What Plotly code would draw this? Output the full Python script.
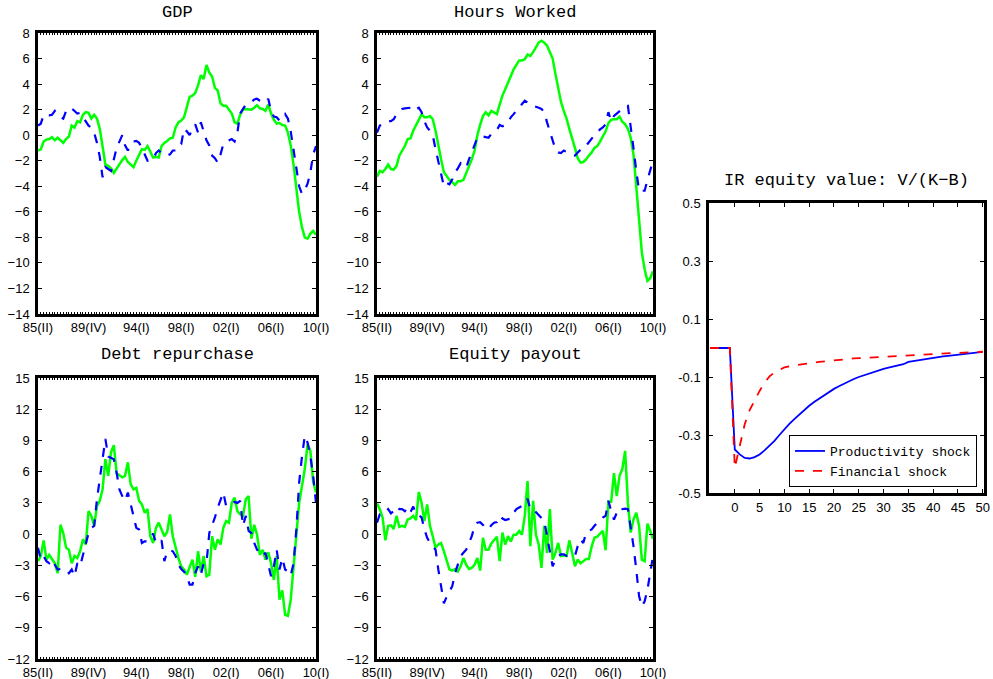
import plotly.graph_objects as go

# ---------------- data ----------------
quarters = list(range(100))  # 1985Q2 .. 2010Q1
tick_pos = [0, 18, 35, 51, 67, 83, 99]
tick_text = ["85(II)", "89(IV)", "94(I)", "98(I)", "02(I)", "06(I)", "10(I)"]

gdp_data = [-1.2, -1.1, -0.5, -0.35, -0.3, -0.15, -0.4, -0.2, -0.4, -0.6,
            -0.3, -0.1, 0.75, 0.6, 1.1, 1.0, 1.6, 1.8, 1.75, 1.3,
            1.6, 1.3, 0.5, -1.0, -2.3, -2.4, -2.6, -2.95, -2.6, -2.2,
            -1.95, -1.7, -2.1, -2.3, -2.5, -2.0, -1.6, -1.1, -1.15, -0.85,
            -1.3, -1.75, -1.7, -1.75, -0.85, -0.6, -0.45, -0.25, -0.2, 0.6,
            1.0, 1.15, 1.4, 2.2, 3.0, 3.1, 3.3, 3.9, 4.7, 4.4,
            5.5, 4.9, 4.6, 3.7, 3.5, 2.5, 2.3, 2.3, 2.0, 1.7,
            1.0, 0.9, 1.6, 2.0, 2.05, 2.0, 2.0, 2.15, 2.35, 2.1,
            2.05, 1.9, 2.4, 1.7, 1.2, 0.9, 0.95, 0.8, 0.75, 0.2,
            -0.8, -2.3, -4.2, -6.0, -7.2, -8.0, -8.1, -7.7, -7.5, -7.8]
gdp_model = [0.75, 0.9, 1.6, 1.55, 1.55, 1.6, 1.9, 1.55, 1.45, 1.3,
             1.9, 1.85, 2.1, 1.9, 1.7, 1.75, 1.4, 1.1, 0.75, 0.6,
             0.2, -0.6, -1.7, -3.3, -2.5, -2.65, -2.8, -1.9, -1.0, -0.5,
             0.0, -0.8, -1.2, -0.7, -0.5, -0.45, -0.6, -1.0, -1.5, -2.0,
             -1.95, -1.9, -1.4, -1.2, -1.4, -1.55, -1.6, -1.5, -1.2, -1.2,
             -0.8, -0.7, 0.5, 0.3, 0.0, 0.5, 0.85, 0.2, 1.0, 0.2,
             -0.4, -0.8, -1.6, -1.8, -2.15, -1.5, -0.7, -0.5, -0.4, -0.3,
             -0.5, 0.2, 1.7, 2.1, 2.4, 2.5, 2.6, 2.8, 2.85, 2.7,
             2.65, 2.55, 2.85, 1.9, 1.45, 1.4, 1.15, 1.3, 1.65, 1.3,
             0.3, -1.2, -2.6, -4.0, -4.6, -4.3, -3.8, -2.9, -1.5, -0.85]

hours_data = [-3.25, -2.8, -2.9, -2.65, -2.3, -2.65, -2.7, -2.4, -1.6, -1.2,
              -0.85, -0.3, -0.25, 0.35, 0.75, 1.25, 1.65, 1.4, 1.4, 1.5,
              1.25, 0.35, -0.85, -1.9, -2.9, -3.2, -3.5, -3.7, -3.9, -3.6,
              -3.6, -3.5, -3.0, -2.5, -1.9, -1.2, 0.0, 0.8, 1.5, 1.8,
              1.55, 1.9, 1.8, 1.65, 2.4, 3.1, 3.6, 4.1, 4.7, 5.15,
              5.5, 5.85, 5.85, 5.95, 6.3, 6.2, 6.5, 6.9, 7.25, 7.4,
              7.25, 7.0, 6.55, 6.0, 4.8, 3.7, 2.6, 1.9, 1.3, 0.5,
              -0.2, -1.0, -1.8, -2.15, -2.1, -1.9, -1.6, -1.35, -1.0, -0.85,
              -0.5, -0.15, 0.3, 0.95, 1.2, 1.25, 1.25, 1.45, 1.05, 0.85,
              0.5, -0.2, -1.5, -4.0, -6.8, -9.2, -10.5, -11.4, -11.2, -10.65]
hours_model = [0.2, 0.75, 0.85, 1.0, 1.1, 1.1, 1.25, 1.65, 1.85, 2.05,
               2.1, 2.1, 2.15, 2.3, 2.05, 2.15, 1.8, 1.1, 0.6, 0.35,
               0.0, -1.1, -2.15, -3.2, -4.0, -3.75, -3.85, -3.45, -2.9, -2.6,
               -2.2, -2.4, -2.55, -1.9, -1.3, -0.8, -0.2, -0.15, -0.1, -0.15,
               -0.2, 0.1, 0.2, 0.4, 0.8, 0.7, 0.8, 1.0, 1.4, 1.65,
               1.9, 2.15, 2.4, 2.7, 2.55, 2.35, 2.3, 2.25, 2.15, 2.05,
               1.8, 1.0, 0.3, -0.3, -1.1, -1.35, -1.4, -1.2, -1.35, -1.45,
               -1.55, -1.6, -1.35, -1.15, -1.1, -0.8, -0.5, -0.3, 0.0, 0.2,
               0.45, 0.6, 0.85, 1.8, 1.1, 1.5, 1.7, 1.85, 2.1, 2.25,
               2.3, 0.8, -1.0, -2.8, -4.35, -4.35, -4.35, -3.5, -2.8, -2.0]

debt_data = [-2.6, -2.1, -0.6, -2.45, -2.0, -2.45, -2.8, -3.75, 0.9, 0.1,
             -1.3, -1.5, -2.8, -2.1, -2.3, -1.65, -0.5, -1.0, 2.2, 1.75,
             0.8, 2.7, 3.2, 4.3, 7.2, 5.6, 7.85, 8.55, 5.85, 5.65,
             5.45, 5.6, 6.9, 4.8, 4.3, 4.45, 3.2, 2.85, 2.05, 2.4,
             -0.2, -0.85, 0.6, 1.1, 0.45, -0.2, 0.2, 1.9, -0.2, -1.3,
             -2.3, -3.1, -3.4, -3.9, -3.25, -2.45, -4.1, -1.65, -3.6, -2.1,
             -4.05, -3.9, -0.2, -1.5, -0.5, -1.0, 0.6, 1.25, 1.1, 3.0,
             3.5, 2.2, 1.9, 1.75, 3.35, 3.65, -0.45, 0.9, -0.05, -2.0,
             -1.5, -2.45, -1.75, -2.8, -4.4, -2.1, -6.3, -5.4, -7.75, -7.85,
             -6.3, -3.4, -0.2, 3.0, 4.6, 6.25, 8.65, 8.0, 5.0, 4.0]
debt_model = [-1.3, -2.45, -2.1, -2.6, -2.8, -2.45, -2.95, -3.4, -3.35, -3.35,
              -3.4, -3.75, -3.4, -4.05, -2.8, -3.1, -2.1, -0.85, 0.1, 0.6,
              0.8, 3.35, 5.3, 7.05, 9.15, 7.45, 7.3, 7.2, 5.9, 4.3,
              3.65, 3.2, 4.0, 2.7, 1.75, 0.6, 0.45, -0.85, -0.7, -0.7,
              -0.5, 0.05, -0.85, -0.85, -0.6, -2.6, -1.65, -1.55, -1.65, -2.1,
              -2.95, -3.35, -3.6, -4.05, -4.85, -4.85, -3.75, -3.1, -3.9, -2.8,
              -2.8, 0.1, 0.8, 1.6, 2.55, 3.35, 4.0, 2.7, 2.85, 2.95,
              3.1, 3.0, 3.2, 0.8, 1.75, 0.3, 0.1, -0.85, -1.5, -1.8,
              -2.1, -1.8, -2.8, -4.05, -3.1, -1.5, -3.4, -2.3, -3.4, -3.6,
              -4.0, -2.8, 0.45, 4.95, 7.45, 9.45, 8.8, 7.45, 5.6, 3.0]

equity_data = [2.95, 2.4, 1.6, -0.6, 0.8, 0.85, 0.5, 1.75, 0.7, 0.8,
               0.7, 1.4, 1.5, 1.75, 1.35, 4.05, 3.0, 1.25, 2.85, 0.8,
               -0.2, -1.3, -1.0, -0.85, -1.65, -2.45, -3.4, -3.5, -3.35, -3.6,
               -3.1, -2.3, -2.95, -3.35, -3.25, -2.95, -2.3, -3.5, -0.35, -1.5,
               -1.5, -0.9, -0.6, -0.25, -2.6, 0.15, -1.0, -0.2, -0.7, -0.05,
               -0.05, 0.3, -0.05, 1.75, 5.1, -1.15, 3.2, -0.05, -1.0, -3.25,
               0.8, -1.8, 2.4, -2.45, -1.8, -0.85, -2.1, -2.05, -2.1, -0.6,
               -1.8, -3.1, -2.45, -2.8, -2.6, -2.4, -2.4, -1.2, -0.35, -0.25,
               0.05, 0.3, -1.55, 3.1, 3.1, 5.85, 3.65, 5.6, 6.25, 8.0,
               3.0, 0.15, 1.4, 2.05, 0.8, -2.45, -2.6, 1.0, 0.3, -0.45]
equity_model = [1.1, 1.9, 1.9, 2.05, 2.4, 2.0, 2.2, 2.65, 2.4, 2.4,
                2.2, 2.55, 2.1, 2.65, 1.9, 1.8, 1.6, 0.45, -0.35, -0.85,
                -1.15, -1.5, -3.4, -5.2, -6.65, -6.0, -5.5, -5.0, -3.75, -2.8,
                -2.1, -1.8, -1.5, -0.85, -0.2, 0.8, 1.1, 1.15, 0.85, 0.6,
                0.45, 0.85, 1.1, 1.15, 1.75, 1.5, 1.35, 1.4, 1.5, 2.05,
                2.4, 2.55, 2.7, 2.85, 3.4, 2.4, 2.4, 2.1, 1.75, 1.5,
                1.25, -0.2, -1.65, -3.1, -2.45, -2.1, -1.95, -1.95, -2.1, -2.1,
                -2.1, -2.1, -1.15, -0.5, -0.85, 0.15, 0.3, 0.45, 0.8, 1.1,
                1.35, 1.6, 1.75, 3.2, 2.2, 1.4, 2.05, 1.9, 2.4, 2.45,
                2.4, 0.8, -1.15, -3.4, -5.95, -6.95, -6.45, -5.35, -3.75, -2.1]

ir_horizon = list(range(-5, 51))
ir_productivity = [0, 0, 0, 0, 0,
                   -0.350, -0.367, -0.379, -0.381, -0.376, -0.367, -0.353, -0.338, -0.320, -0.300,
                   -0.280, -0.262, -0.245, -0.229, -0.214, -0.199, -0.186, -0.174, -0.162, -0.151,
                   -0.141, -0.132, -0.123, -0.115, -0.107, -0.100, -0.094, -0.088, -0.082, -0.077,
                   -0.072, -0.068, -0.064, -0.060, -0.056, -0.048, -0.045, -0.042, -0.039, -0.036,
                   -0.033, -0.031, -0.029, -0.027, -0.025, -0.023, -0.021, -0.019, -0.017, -0.015,
                   -0.013]
ir_financial = [0, 0, 0, 0, 0,
                -0.413, -0.338, -0.263, -0.214, -0.179, -0.148, -0.119, -0.098, -0.084, -0.075,
                -0.067, -0.063, -0.060, -0.057, -0.054, -0.052, -0.050, -0.048, -0.046, -0.044,
                -0.042, -0.041, -0.039, -0.038, -0.036, -0.035, -0.034, -0.033, -0.032, -0.030,
                -0.029, -0.028, -0.027, -0.026, -0.025, -0.024, -0.023, -0.022, -0.022, -0.021,
                -0.021, -0.020, -0.019, -0.018, -0.017, -0.017, -0.016, -0.015, -0.014, -0.014,
                -0.013]

panel_titles = ["GDP", "Hours Worked", "Debt repurchase", "Equity payout",
                "IR equity value: V/(K\u2212B)"]
legend_names = ["Productivity shock", "Financial shock"]

# ---------------- figure ----------------
W, H = 993, 679
GREEN, BLUE, RED = "#00ff00", "#0000ff", "#ff0000"
TICKFONT = dict(family="Liberation Sans, Arial, sans-serif", size=13, color="black")
TITLEFONT = dict(family="Liberation Mono, Courier New, monospace", size=17, color="black")


def xd(a, b):
    return [a / W, b / W]


def yd(top, bottom):
    return [1 - bottom / H, 1 - top / H]


panels = [
    # (x domain px, y domain px, data, model, yrange, dtick, title y px)
    ((38, 316), (33, 314), gdp_data, gdp_model, [-14, 8], 2, 12),
    ((377, 653), (33, 314), hours_data, hours_model, [-14, 8], 2, 12),
    ((38, 316), (378, 659), debt_data, debt_model, [-12, 15], 3, 354),
    ((377, 653), (378, 659), equity_data, equity_model, [-12, 15], 3, 354),
]

fig = go.Figure()
layout = dict(
    width=W, height=H, margin=dict(l=0, r=0, t=0, b=0, autoexpand=False),
    paper_bgcolor="white", plot_bgcolor="white",
    annotations=[],
)

for k, ((x0, x1), (y0, y1), dat, mod, yr, dt, ty) in enumerate(panels):
    n = k + 1
    xs = "x" if n == 1 else f"x{n}"
    ys = "y" if n == 1 else f"y{n}"
    xk = "xaxis" if n == 1 else f"xaxis{n}"
    yk = "yaxis" if n == 1 else f"yaxis{n}"
    fig.add_trace(go.Scatter(x=quarters, y=dat, mode="lines", xaxis=xs, yaxis=ys,
                             line=dict(color=GREEN, width=2.5), showlegend=False))
    fig.add_trace(go.Scatter(x=quarters, y=mod, mode="lines", xaxis=xs, yaxis=ys,
                             line=dict(color=BLUE, width=2.2, dash="dash"), showlegend=False))
    layout[xk] = dict(domain=xd(x0, x1), anchor=ys, range=[0, 99], automargin=False,
                      tickvals=tick_pos, ticktext=tick_text, ticks="", showgrid=False,
                      zeroline=False, showline=True, linecolor="black", linewidth=2.5,
                      mirror=True, tickfont=TICKFONT, ticklabelstandoff=0)
    layout[yk] = dict(domain=yd(y0, y1), anchor=xs, range=yr, dtick=dt, automargin=False,
                      ticks="inside", ticklen=4, tickcolor="black", tickwidth=1,
                      showgrid=False, zeroline=False, showline=True, linecolor="black",
                      linewidth=2.5, mirror="ticks", tickfont=TICKFONT, ticklabelstandoff=3)
    # quarterly minor ticks along top and bottom frame
    for j, side in enumerate(["top", "bottom"]):
        ok = f"xaxis{5 + 2 * k + j + 1}"
        layout[ok] = dict(overlaying=xs, anchor=ys, side=side, range=[0, 99], dtick=1,
                          ticks="inside", ticklen=2, tickcolor="black", tickwidth=1,
                          showticklabels=False, showgrid=False, zeroline=False,
                          showline=False, automargin=False)
        fig.add_trace(go.Scatter(x=[0], y=[None], xaxis=f"x{5 + 2 * k + j + 1}", yaxis=ys,
                                 mode="lines", showlegend=False, hoverinfo="skip"))
    layout["annotations"].append(dict(
        text=panel_titles[k], x=(x0 + x1) / 2 / W, y=1 - ty / H,
        xref="paper", yref="paper", showarrow=False, font=TITLEFONT,
        xanchor="center", yanchor="middle"))

# IR panel
fig.add_trace(go.Scatter(x=ir_horizon, y=ir_productivity, mode="lines", xaxis="x5", yaxis="y5",
                         name=legend_names[0], line=dict(color=BLUE, width=1.8)))
fig.add_trace(go.Scatter(x=ir_horizon, y=ir_financial, mode="lines", xaxis="x5", yaxis="y5",
                         name=legend_names[1], line=dict(color=RED, width=1.8, dash="dash")))
layout["xaxis5"] = dict(domain=xd(709, 984), anchor="y5", range=[-5.2, 50.25], automargin=False,
                        tickvals=list(range(0, 51, 5)), ticks="inside", ticklen=4,
                        tickcolor="black", showgrid=False, zeroline=False, showline=True,
                        linecolor="black", linewidth=2.5, mirror="ticks", tickfont=TICKFONT,
                        ticklabelstandoff=1)
layout["yaxis5"] = dict(domain=yd(203, 493), anchor="x5", range=[-0.5, 0.5], automargin=False,
                        tickvals=[-0.5, -0.3, -0.1, 0.1, 0.3, 0.5],
                        ticktext=["-0.5", "-0.3", "-0.1", "0.1", "0.3", "0.5"],
                        ticks="inside", ticklen=4, tickcolor="black", showgrid=False,
                        zeroline=False, showline=True, linecolor="black", linewidth=2.5,
                        mirror="ticks", tickfont=TICKFONT, ticklabelstandoff=3)
layout["annotations"].append(dict(
    text=panel_titles[4], x=(709 + 984) / 2 / W, y=1 - 181 / H, xref="paper", yref="paper",
    showarrow=False, font=TITLEFONT, xanchor="center", yanchor="middle"))

layout["legend"] = dict(x=977 / W, y=1 - 487 / H, xanchor="right", yanchor="bottom",
                        bgcolor="white", bordercolor="black", borderwidth=1,
                        font=dict(family="Liberation Mono, Courier New, monospace", size=13,
                                  color="black"),
                        tracegroupgap=0, itemwidth=30)
layout["showlegend"] = True

fig.update_layout(**layout)
fig.write_html("out.html", config={"displayModeBar": False},
               post_script="document.body.style.margin='0';document.body.style.overflow='hidden';")
